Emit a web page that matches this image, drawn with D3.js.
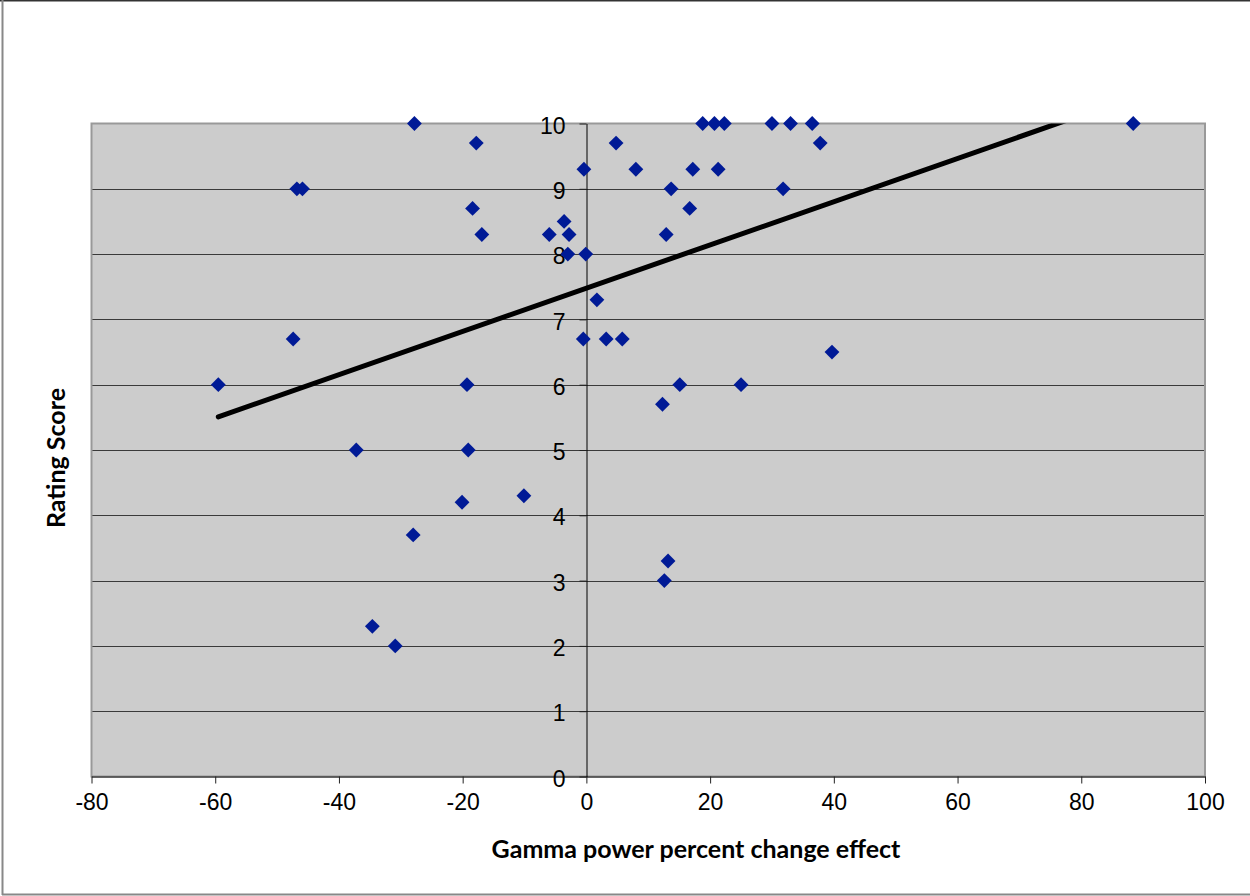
<!DOCTYPE html>
<html>
<head>
<meta charset="utf-8">
<script src="https://cdn.jsdelivr.net/npm/d3@7.9.0/dist/d3.min.js"></script>
<style>
  html, body { margin: 0; padding: 0; background: #fff; }
  svg { display: block; }
</style>
</head>
<body>
<svg id="chart" width="1250" height="896"></svg>
<script>
// gamma power percent change effect (x) vs rating score (y)
const gammaChange = [
  -27.8, 18.8, 20.7, 22.3, 30.0, 33.0, 36.5, 88.4,
  -17.8, 4.8, 37.8,
  -0.4, 8.0, 17.2, 21.3,
  -46.8, -45.9, 13.7, 31.8,
  -18.4, 16.7,
  -3.6,
  -16.9, -6.0, -2.8, 12.9,
  -3.0, -0.1,
  1.7,
  -47.4, -0.5, 3.2, 5.8,
  39.7,
  -59.5, -19.3, 15.1, 25.0,
  12.3,
  -37.2, -19.1,
  -10.1, -20.1, -28.0, 13.2, 12.6, -34.6, -30.9
];
const ratingScore = [
  10, 10, 10, 10, 10, 10, 10, 10,
  9.7, 9.7, 9.7,
  9.3, 9.3, 9.3, 9.3,
  9, 9, 9, 9,
  8.7, 8.7,
  8.5,
  8.3, 8.3, 8.3, 8.3,
  8, 8,
  7.3,
  6.7, 6.7, 6.7, 6.7,
  6.5,
  6, 6, 6, 6,
  5.7,
  5, 5,
  4.3, 4.2, 3.7, 3.3, 3, 2.3, 2
];
const xTicks = [-80, -60, -40, -20, 0, 20, 40, 60, 80, 100];
const yTicks = [0, 1, 2, 3, 4, 5, 6, 7, 8, 9, 10];

const points = gammaChange.map((g, i) => ({ x: g, y: ratingScore[i] }));

const svg = d3.select('#chart');
const plot = { left: 91.5, right: 1205, top: 123.5, bottom: 776.5 };

const x = d3.scaleLinear().domain([-80, 100]).range([plot.left, plot.right]);
const y = d3.scaleLinear().domain([0, 10]).range([plot.bottom, plot.top]);

// outer chart border
svg.append('line').attr('x1', 0).attr('x2', 1250).attr('y1', 0.5).attr('y2', 0.5)
  .attr('stroke', '#333').attr('stroke-width', 2);
svg.append('line').attr('x1', 2.5).attr('x2', 2.5).attr('y1', 0).attr('y2', 895)
  .attr('stroke', '#888').attr('stroke-width', 2);
svg.append('line').attr('x1', 2).attr('x2', 1250).attr('y1', 894.5).attr('y2', 894.5)
  .attr('stroke', '#888').attr('stroke-width', 2);

// plot background
svg.append('rect')
  .attr('x', plot.left).attr('y', plot.top)
  .attr('width', plot.right - plot.left).attr('height', plot.bottom - plot.top)
  .attr('fill', '#cccccc');

// gridlines
svg.append('g')
  .selectAll('line')
  .data(yTicks.filter((t) => t > 0 && t < 10))
  .join('line')
  .attr('x1', plot.left).attr('x2', plot.right)
  .attr('y1', (d) => Math.round(y(d)) + 0.5).attr('y2', (d) => Math.round(y(d)) + 0.5)
  .attr('stroke', '#3a3a3a').attr('stroke-width', 1.2);

// plot border
svg.append('rect')
  .attr('x', plot.left).attr('y', plot.top)
  .attr('width', plot.right - plot.left).attr('height', plot.bottom - plot.top)
  .attr('fill', 'none').attr('stroke', '#999').attr('stroke-width', 2);

// plain hyphen for negatives, as in the original
const plain = (d) => String(d);

// x axis at bottom
const xAxis = svg.append('g')
  .attr('transform', `translate(0,${plot.bottom})`)
  .call(d3.axisBottom(x).tickValues(xTicks).tickFormat(plain)
    .tickSize(7).tickSizeOuter(0).tickPadding(10));
xAxis.select('.domain').attr('stroke', '#444').attr('stroke-width', 1.5);
xAxis.selectAll('.tick line').attr('stroke', '#222');
xAxis.selectAll('text')
  .attr('font-family', 'Liberation Sans, Arial, sans-serif')
  .attr('font-size', 23).attr('fill', '#000');

// y axis crossing at x = 0
const yAxis = svg.append('g')
  .attr('transform', `translate(${Math.round(x(0)) + 0.5},0)`)
  .call(d3.axisLeft(y).tickValues(yTicks).tickFormat(plain)
    .tickSize(7).tickSizeOuter(0).tickPadding(14));
yAxis.select('.domain').attr('stroke', '#000').attr('stroke-width', 1);
yAxis.selectAll('.tick line').attr('stroke', '#222');
yAxis.selectAll('text')
  .attr('font-family', 'Liberation Sans, Arial, sans-serif')
  .attr('font-size', 23).attr('fill', '#000').attr('dy', '0.42em');

// linear trendline (least squares, like the spreadsheet's)
const mx = d3.mean(points, (d) => d.x);
const my = d3.mean(points, (d) => d.y);
const slope = d3.sum(points, (d) => (d.x - mx) * (d.y - my)) / d3.sum(points, (d) => (d.x - mx) ** 2);
const intercept = my - slope * mx;
const [xMin, xMax] = d3.extent(points, (d) => d.x);

svg.append('clipPath').attr('id', 'clip')
  .append('rect')
  .attr('x', plot.left).attr('y', plot.top)
  .attr('width', plot.right - plot.left).attr('height', plot.bottom - plot.top);

svg.append('line')
  .attr('clip-path', 'url(#clip)')
  .attr('x1', x(xMin)).attr('y1', y(intercept + slope * xMin))
  .attr('x2', x(xMax)).attr('y2', y(intercept + slope * xMax))
  .attr('stroke', '#000').attr('stroke-width', 5).attr('stroke-linecap', 'round');

// diamonds
const diamond = d3.symbol().type(d3.symbolSquare).size(110);
svg.append('g')
  .selectAll('path')
  .data(points)
  .join('path')
  .attr('d', diamond)
  .attr('transform', (d) => `translate(${x(d.x)},${y(d.y)}) rotate(45)`)
  .attr('fill', '#001a96');

// axis titles
svg.append('text')
  .attr('x', 696).attr('y', 858)
  .attr('text-anchor', 'middle')
  .attr('font-family', 'Lato, Open Sans, sans-serif')
  .attr('font-weight', 'bold').attr('font-size', 25)
  .text('Gamma power percent change effect');

svg.append('text')
  .attr('transform', 'translate(65,458) rotate(-90)')
  .attr('text-anchor', 'middle')
  .attr('font-family', 'Lato, Open Sans, sans-serif')
  .attr('font-weight', 'bold').attr('font-size', 25)
  .text('Rating Score');
</script>
</body>
</html>
